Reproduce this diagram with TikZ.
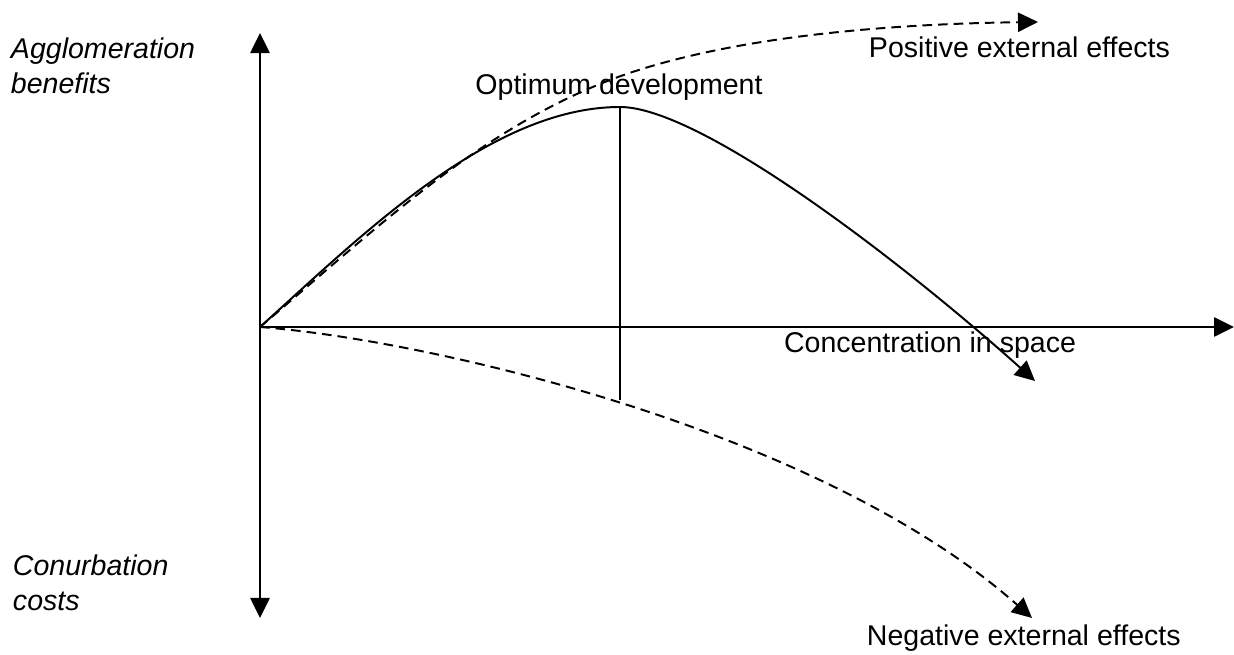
\documentclass[tikz,border=0pt]{standalone}
\usepackage{fontspec}
\setmainfont{Liberation Sans}
\usetikzlibrary{arrows.meta}
\newcommand{\lblfont}{\fontsize{20.3}{24.9}\selectfont}
\tikzset{
  lbl/.style={font=\lblfont, inner sep=0pt},
  axislbl/.style={font=\lblfont\itshape, inner sep=0pt, align=left, anchor=north west},
  tip/.style={-{Triangle[length=0.5cm, width=0.48cm]}},
  curve/.style={line width=1.4pt},
  effect/.style={curve, dash pattern=on 0.24cm off 0.15cm}
}
\begin{document}
\begin{tikzpicture}[x=0.025cm, y=-0.025cm, line width=1.4pt]
  \useasboundingbox (0,0) rectangle (1234,655);
  % axes
  \coordinate (O) at (260,327);
  \coordinate (top) at (260,33);
  \coordinate (bot) at (260,618);
  \coordinate (xend) at (1234,327);
  \draw[tip] (O) -- (top);
  \draw[tip] (O) -- (bot);
  \draw[tip] (O) -- (xend);
  % curves
  \coordinate (peak) at (620,107);
  \coordinate (foot) at (620,400);
  \coordinate (bend) at (610,80);
  \coordinate (posend) at (1038,22);
  \coordinate (negend) at (1032,618);
  \coordinate (netend) at (1035,381);
  \draw[curve] (O) .. controls (360,237) and (490,107) .. (peak);
  \draw[curve, tip] (peak) .. controls (700,107) and (900,260) .. (netend);
  \draw[effect, tip] (O) .. controls (380,225) and (480,130) .. (bend)
    .. controls (720,38) and (880,24) .. (posend);
  \draw[effect, tip] (O) .. controls (430,340) and (820,430) .. (negend);
  \draw[line width=1.1pt] (peak) -- (foot);
  % labels
  \node[axislbl] (benefits) at (10,37) {Agglomeration\\benefits};
  \node[axislbl] (costs) at (12,554) {Conurbation\\costs};
  \node[lbl, anchor=base] (optimum) at (619,95) {Optimum development};
  \node[lbl, anchor=base west] (positive) at (868,58) {Positive external effects};
  \node[lbl, anchor=base east] (concentration) at (1077,353) {Concentration in space};
  \node[lbl, anchor=base west] (negative) at (866,645) {Negative external effects};
\end{tikzpicture}
\end{document}
